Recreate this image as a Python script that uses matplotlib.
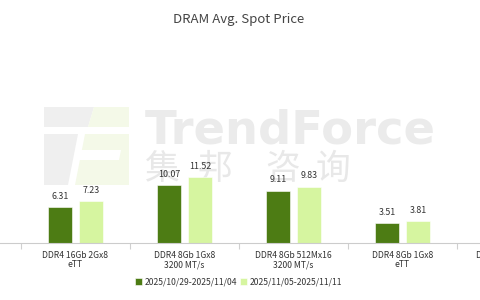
import matplotlib
matplotlib.use("Agg")
import matplotlib.pyplot as plt
import numpy as np
from matplotlib.patches import Polygon

plt.rcParams['font.family'] = ['Noto Sans CJK SC', 'DejaVu Sans']

title = "DRAM Avg. Spot Price"
categories = ["DDR4 16Gb 2Gx8\neTT", "DDR4 8Gb 1Gx8\n3200 MT/s",
              "DDR4 8Gb 512Mx16\n3200 MT/s", "DDR4 8Gb 1Gx8\neTT",
              "DDR3 4Gb 512Mx8\neTT"]
series_names = ["2025/10/29-2025/11/04", "2025/11/05-2025/11/11"]
week1 = [6.31, 10.07, 9.11, 3.51]
week2 = [7.23, 11.52, 9.83, 3.81]

c_dark = "#4d7c14"
c_light = "#d6f5a0"
txt = "#333333"

W, H = 480, 300
fig = plt.figure(figsize=(W / 100, H / 100), dpi=100)

# watermark (logo + wordmark)
wm = fig.add_axes([0, 0, 1, 1], zorder=0)
wm.set_xlim(0, W); wm.set_ylim(H, 0); wm.axis("off")
g, gr = "#efefef", "#f4f9e8"
wm.add_patch(Polygon([(44, 107), (94, 107), (88, 127), (44, 127)], closed=True, fc=g, ec="none"))
wm.add_patch(Polygon([(94, 107), (129, 107), (129, 127), (88, 127)], closed=True, fc=gr, ec="none"))
wm.add_patch(Polygon([(44, 134), (78, 134), (68, 185), (44, 185)], closed=True, fc=g, ec="none"))
wm.add_patch(Polygon([(85, 134), (129, 134), (129, 185), (75, 185)], closed=True, fc=gr, ec="none"))
wm.add_patch(Polygon([(80, 150), (121, 150), (119, 160), (78, 160)], closed=True, fc="white", ec="none"))
wm.text(145, 143, "TrendForce", fontsize=33.5, fontweight="bold", color="#ebebeb",
        family=["DejaVu Sans"], ha="left", va="baseline")
for xc, ch in zip([162, 215, 283, 333], "集邦咨询"):
    wm.text(xc, 169, ch, fontsize=25, color="#e8e8e8", ha="center", va="center")

ax = fig.add_axes([-1 / W, 57 / H, 567 / W, 183 / H], zorder=1)
ax.patch.set_alpha(0)
x = np.arange(len(week1))
bw = 0.22
off = 0.142
b1 = ax.bar(x - off, week1, bw, color=c_dark, label=series_names[0], edgecolor="white", linewidth=0.4)
b2 = ax.bar(x + off, week2, bw, color=c_light, label=series_names[1], edgecolor="white", linewidth=0.4)
for bc in (b1, b2):
    ax.bar_label(bc, labels=[f"{v:.2f}" for v in bc.datavalues], padding=4.5, fontsize=6.4, color=txt)

ax.set_xlim(-0.7, 4.5)
ax.set_ylim(0, 183 / 5.74)
ax.set_xticks(np.arange(len(categories)))
ax.set_xticklabels(categories, fontsize=6.2, color=txt, linespacing=1.0,
                   ha="center", multialignment="center")
ax.set_xticks(np.arange(-0.5, len(categories)), minor=True)
ax.tick_params(axis="x", which="major", length=0, pad=6)
ax.tick_params(axis="x", which="minor", length=4, color="#d0d0d0", width=0.8)
ax.set_yticks([])
for s in ["top", "left", "right"]:
    ax.spines[s].set_visible(False)
ax.spines["bottom"].set_color("#cccccc")
ax.spines["bottom"].set_linewidth(0.8)

fig.text(0.498, 1 - 20 / H, title, ha="center", va="center", fontsize=9.5, color="#444444")

fig.legend(handles=[b1, b2], labels=series_names, loc="center", bbox_to_anchor=(0.497, 1 - 282 / H),
           ncol=2, frameon=False, fontsize=6.2, handlelength=0.75, handleheight=0.75,
           handletextpad=0.3, columnspacing=0.4, labelcolor=txt)

fig.savefig("out.png", dpi=100)
